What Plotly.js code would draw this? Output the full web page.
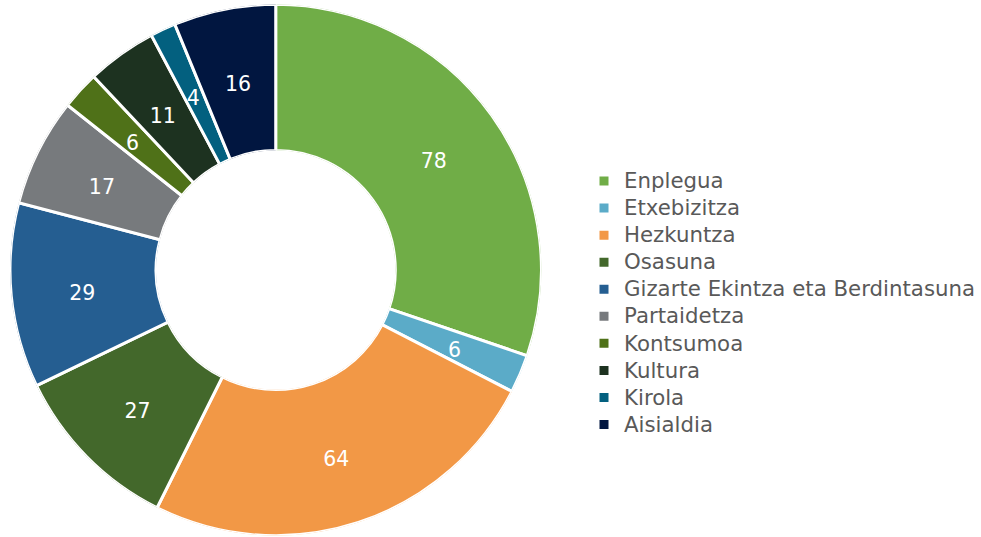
<!DOCTYPE html>
<html>
<head>
<meta charset="utf-8">
<script src="https://cdn.plot.ly/plotly-3.0.1.min.js"></script>
<style>html,body{margin:0;padding:0;background:#fff;}#chart{width:981px;height:537px;}</style>
</head>
<body>
<div id="chart"></div>
<script>
const categories = ["Enplegua","Etxebizitza","Hezkuntza","Osasuna","Gizarte Ekintza eta Berdintasuna","Partaidetza","Kontsumoa","Kultura","Kirola","Aisialdia"];
const values = [78, 6, 64, 27, 29, 17, 6, 11, 4, 16];
const colors = ["#70AD47","#5BABC8","#F29846","#43682B","#255E91","#777A7D","#4F7118","#1D3220","#03607F","#011640"];

const HOLE = 0.45;
const FONT = 'DejaVu Sans, Verdana, sans-serif';
const domain = {x: [10/981, 542/981], y: [1/537, 533/537]};
// label layer: circle centred a few px lower so the digits sit optically centred
const textDomain = {x: domain.x, y: [0, 522/537]};

// angular extent of each slice (degrees, clockwise from 12 o'clock)
const total = values.reduce((a, b) => a + b, 0);
let cum = 0;
const widths = values.map(v => v / total * 360);
const midTheta = values.map(v => { const m = (cum + v / 2) / total * 360; cum += v; return m; });

const traces = categories.map((c, i) => ({
  type: 'barpolar',
  name: '<span style="font-size:21.3px">' + c + '</span>',
  r: [1],
  theta: [midTheta[i]],
  width: [widths[i]],
  marker: {color: colors[i], line: {color: '#ffffff', width: 3}},
  hoverinfo: 'name'
}));

traces.push({
  type: 'scatterpolar',
  subplot: 'polar2',
  mode: 'text',
  r: values.map(() => 0.535),
  theta: midTheta,
  text: values.map(String),
  textposition: 'middle center',
  textfont: {family: FONT, size: 20.5, color: '#ffffff'},
  showlegend: false,
  hoverinfo: 'skip',
  cliponaxis: false
});

const hiddenAxes = () => ({
  radialaxis: {visible: false, range: [0, 1]},
  angularaxis: {visible: false, rotation: 90, direction: 'clockwise'}
});

const layout = {
  width: 981, height: 537,
  margin: {l: 0, r: 0, t: 0, b: 0},
  paper_bgcolor: '#ffffff',
  showlegend: true,
  polar: Object.assign({domain: domain, hole: HOLE, bgcolor: 'rgba(0,0,0,0)', barmode: 'overlay'}, hiddenAxes()),
  polar2: Object.assign({domain: textDomain, hole: HOLE, bgcolor: 'rgba(0,0,0,0)'}, hiddenAxes()),
  legend: {
    x: 0.596, y: 1 - 303/537, xanchor: 'left', yanchor: 'middle',
    font: {family: FONT, size: 18.5, color: '#595959'},
    itemwidth: 30,
    tracegroupgap: 0
  }
};

Plotly.newPlot('chart', traces, layout, {displayModeBar: false, staticPlot: true});
</script>
</body>
</html>
